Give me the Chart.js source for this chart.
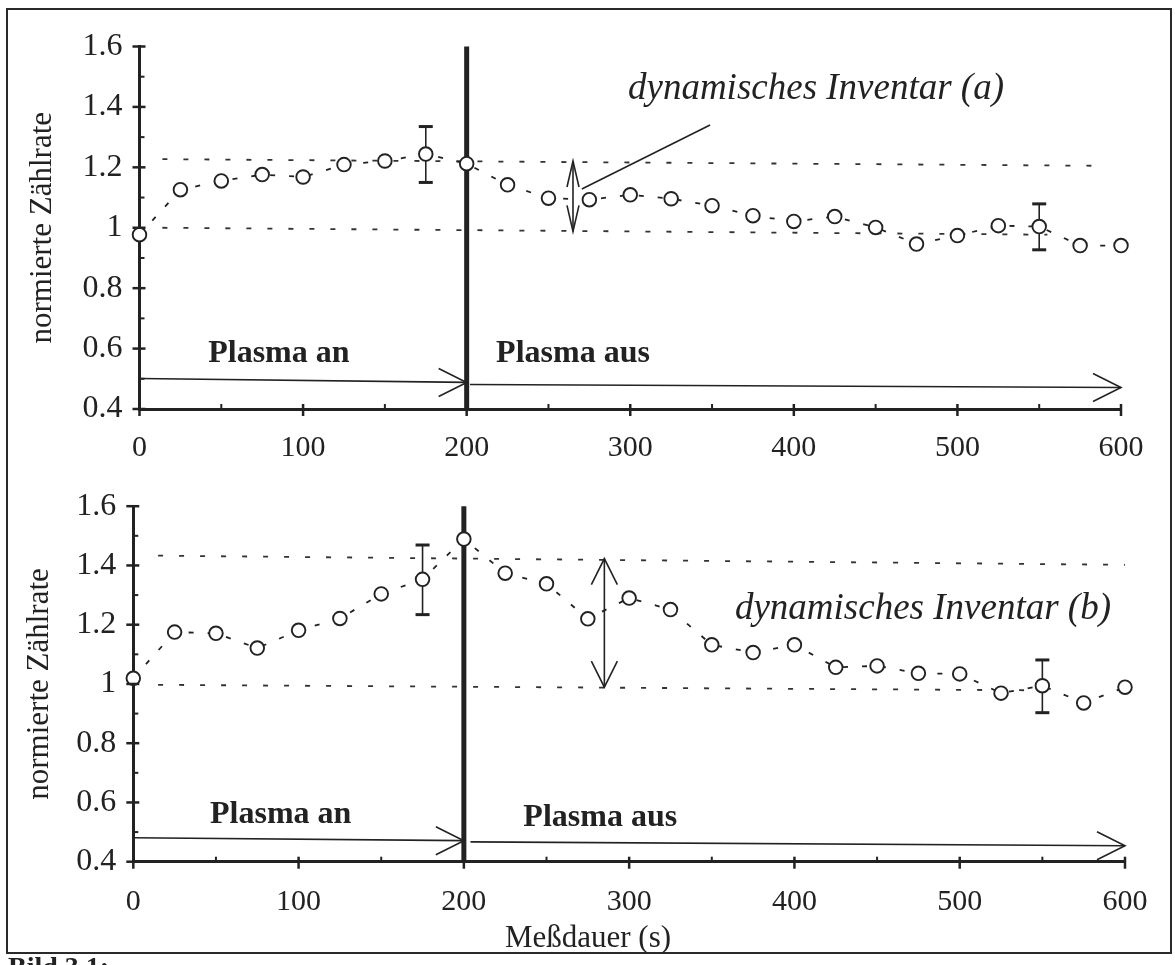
<!DOCTYPE html>
<html>
<head>
<meta charset="utf-8">
<script src="https://cdn.jsdelivr.net/npm/chart.js@4.4.1/dist/chart.umd.min.js"></script>
<style>
html,body{margin:0;padding:0;background:#fff;}
#wrap{position:relative;width:1175px;height:965px;overflow:hidden;background:#fff;}
#frame{position:absolute;left:6px;top:8px;width:1166px;height:946px;border:2px solid #2a2a2a;box-sizing:border-box;}
canvas{position:absolute;left:0;}
#c1{top:0;}
#c2{top:470px;}
#caption{position:absolute;left:8px;top:952px;font:bold 28px 'Liberation Serif',serif;color:#222;line-height:30px;}
</style>
</head>
<body>
<div id="wrap">
  <div id="frame"></div>
  <canvas id="c1" width="1175" height="470"></canvas>
  <canvas id="c2" width="1175" height="495"></canvas>
  <div id="caption">Bild 3.1:</div>
</div>
<script>
// ---------------- data ----------------
const times = [0,25,50,75,100,125,150,175,200,225,250,275,300,325,350,375,400,425,450,475,500,525,550,575,600];
const rateA = [0.977,1.126,1.155,1.176,1.168,1.209,1.221,1.244,1.212,1.142,1.098,1.093,1.109,1.096,1.073,1.040,1.021,1.037,1.001,0.946,0.974,1.007,1.004,0.941,0.941];
const rateB = [1.019,1.175,1.171,1.121,1.181,1.221,1.304,1.353,1.489,1.374,1.338,1.220,1.290,1.251,1.132,1.106,1.132,1.056,1.061,1.036,1.034,0.969,0.994,0.936,0.989];
const errTimes = [175, 550];
const errLowA  = [1.150, 0.927];
const errHighA = [1.335, 1.079];
const errLowB  = [1.234, 0.903];
const errHighB = [1.469, 1.081];
const xMin = 0, xMax = 600, xStep = 100;
const yMin = 0.4, yMax = 1.6, yStep = 0.2;
const switchTime = 200;
// dotted reference levels (start / end)
const refUpperA = [[14,1.227],[589,1.205]];
const refLowerA = [[14,1.000],[555,0.977]];
const refUpperB = [[15,1.433],[600,1.402]];
const refLowerB = [[15,0.997],[560,0.978]];
// inventory double arrows [time, low, high]
const invArrowA = [265, 0.988, 1.221];
const invArrowB = [285, 0.989, 1.423];
// pointer line (a)
const pointerA = [[270.4,1.128],[348.8,1.340]];
// phase arrows [[t0,v0],[t1,v1]]
const phaseAnA  = [[0,0.501],[200,0.488]];
const phaseAusA = [[202,0.481],[600,0.471]];
const phaseAnB  = [[0,0.481],[200,0.471]];
const phaseAusB = [[204,0.467],[600,0.454]];
// labels
const yTitle = 'normierte Zählrate';
const xTitle = 'Meßdauer (s)';
const invLabelA = 'dynamisches Inventar (a)';
const invLabelB = 'dynamisches Inventar (b)';
const onLabel = 'Plasma an';
const offLabel = 'Plasma aus';

// ---------------- drawing ----------------
const INK = '#222';
const FONT = "'Liberation Serif', 'Times New Roman', serif";

function seg(ctx, x1, y1, x2, y2, w) {
  ctx.lineWidth = w; ctx.beginPath(); ctx.moveTo(x1, y1); ctx.lineTo(x2, y2); ctx.stroke();
}

const decor = {
  id: 'decor',
  beforeDatasetsDraw(chart, args, o) {
    const ctx = chart.ctx, xs = chart.scales.x, ys = chart.scales.y;
    ctx.save(); ctx.strokeStyle = INK; ctx.lineCap = 'butt';
    o.errT.forEach((t, i) => {
      const x = xs.getPixelForValue(t);
      const y1 = ys.getPixelForValue(o.errLo[i]), y2 = ys.getPixelForValue(o.errHi[i]);
      seg(ctx, x, y1, x, y2, 1.6);
      seg(ctx, x - 7, y1, x + 7, y1, 3);
      seg(ctx, x - 7, y2, x + 7, y2, 3);
    });
    ctx.restore();
  },
  afterDraw(chart, args, o) {
    const ctx = chart.ctx, xs = chart.scales.x, ys = chart.scales.y, ca = chart.chartArea;
    const P = (t, v) => [xs.getPixelForValue(t), ys.getPixelForValue(v)];
    ctx.save(); ctx.strokeStyle = INK; ctx.fillStyle = INK; ctx.lineCap = 'butt';
    // tick marks
    const yt = ys.ticks.map(t => t.value);
    yt.forEach(v => { const y = ys.getPixelForValue(v); seg(ctx, ca.left - 7, y, ca.left + 6, y, 2.5); });
    for (let i = 0; i < yt.length - 1; i++) { const y = ys.getPixelForValue((yt[i] + yt[i+1]) / 2); seg(ctx, ca.left, y, ca.left + 5, y, 2); }
    const xt = xs.ticks.map(t => t.value);
    xt.forEach(v => { const x = xs.getPixelForValue(v); seg(ctx, x, ca.bottom - 5, x, ca.bottom + 7, 2.5); });
    for (let i = 0; i < xt.length - 1; i++) { const x = xs.getPixelForValue((xt[i] + xt[i+1]) / 2); seg(ctx, x, ca.bottom - 5, x, ca.bottom, 2); }
    // inventory double arrow
    const [it, ilo, ihi] = o.inv;
    const [ax, ay1] = P(it, ilo), ay2 = ys.getPixelForValue(ihi);
    seg(ctx, ax, ay1, ax, ay2, 1.6);
    [[ay1, -1], [ay2, 1]].forEach(([y, d]) => {
      ctx.lineWidth = 1.6; ctx.beginPath();
      ctx.moveTo(ax - o.invHalf, y + d * o.invBack); ctx.lineTo(ax, y); ctx.lineTo(ax + o.invHalf, y + d * o.invBack); ctx.stroke();
    });
    // pointer
    if (o.pointer) { const a = P(...o.pointer[0]), b = P(...o.pointer[1]); seg(ctx, a[0], a[1], b[0], b[1], 1.6); }
    // phase arrows
    o.phases.forEach(ph => {
      const a = P(...ph[0]), b = P(...ph[1]);
      seg(ctx, a[0], a[1], b[0], b[1], 1.6);
      ctx.lineWidth = 1.6; ctx.beginPath();
      ctx.moveTo(b[0] - 28, b[1] - 14); ctx.lineTo(b[0], b[1]); ctx.lineTo(b[0] - 28, b[1] + 14); ctx.stroke();
    });
    // texts
    ctx.textBaseline = 'alphabetic'; ctx.textAlign = 'left';
    o.texts.forEach(tx => {
      ctx.font = tx.font; const p = P(tx.t, tx.v); ctx.fillText(tx.s, p[0], p[1]);
    });
    // y title
    ctx.save();
    ctx.font = '31px ' + FONT; ctx.textAlign = 'center'; ctx.textBaseline = 'middle';
    ctx.translate(o.yTitleX, (ca.top + ca.bottom) / 2); ctx.rotate(-Math.PI / 2);
    ctx.fillText(yTitle, 0, 0);
    ctx.restore();
    if (o.xTitle) {
      ctx.font = '31px ' + FONT; ctx.textAlign = 'center'; ctx.textBaseline = 'middle';
      ctx.fillText(xTitle, o.xTitle[0], o.xTitle[1]);
    }
    ctx.restore();
  }
};

function panel(id, rates, errLo, errHi, refU, refL, geom, deco) {
  const pts = times.map((t, i) => ({ x: t, y: rates[i] }));
  const line = arr => arr.map(p => ({ x: p[0], y: p[1] }));
  return new Chart(document.getElementById(id), {
    type: 'line',
    data: { datasets: [
      { data: pts, borderColor: INK, borderWidth: 1.8, borderDash: [5, 14], pointRadius: 6.8, pointBorderWidth: 1.9,
        pointBackgroundColor: '#fff', pointBorderColor: INK, tension: 0, clip: false },
      { data: line(refU), borderColor: '#333', borderWidth: 1.8, borderDash: [5, 16], pointRadius: 0, clip: false },
      { data: line(refL), borderColor: '#333', borderWidth: 1.8, borderDash: [5, 16], pointRadius: 0, clip: false },
      { data: [{ x: switchTime, y: yMin }, { x: switchTime, y: yMax }], borderColor: INK, borderWidth: 5, pointRadius: 0, clip: false }
    ] },
    options: {
      responsive: false, animation: false, events: [],
      layout: { padding: { left: 0, top: geom.top, right: geom.right, bottom: 0 } },
      plugins: { legend: { display: false }, tooltip: { enabled: false }, decor: Object.assign({ errT: errTimes, errLo, errHi }, deco) },
      scales: {
        x: { type: 'linear', min: xMin, max: xMax,
             border: { display: true, width: 3, color: INK },
             grid: { display: false, drawTicks: false },
             ticks: { stepSize: xStep, font: { family: FONT, size: 30 }, color: INK, padding: geom.xPad, maxRotation: 0, autoSkip: false },
             afterFit: s => { s.height = geom.xh; } },
        y: { type: 'linear', min: yMin, max: yMax,
             border: { display: true, width: 3, color: INK },
             grid: { display: false, drawTicks: false },
             ticks: { stepSize: yStep, font: { family: FONT, size: 32 }, color: INK, padding: 17, autoSkip: false,
                      callback: v => String(Math.round(v * 10) / 10) },
             afterFit: s => { s.width = geom.yw; } }
      }
    },
    plugins: [decor]
  });
}

panel('c1', rateA, errLowA, errHighA, refUpperA, refLowerA,
  { top: 46.5, right: 54, xh: 61, yw: 139.5, xPad: 21 },
  { inv: invArrowA, invBack: 26, invHalf: 6, pointer: pointerA, phases: [phaseAnA, phaseAusA], yTitleX: 43,
    texts: [
      { s: invLabelA, t: 298.6, v: 1.426, font: 'italic 37px ' + FONT },
      { s: onLabel, t: 42, v: 0.554, font: 'bold 32px ' + FONT },
      { s: offLabel, t: 218, v: 0.554, font: 'bold 32px ' + FONT }
    ] });

panel('c2', rateB, errLowB, errHighB, refUpperB, refLowerB,
  { top: 31.7, right: 50, xh: 103.3, yw: 133.3, xPad: 22 },
  { inv: invArrowB, invBack: 26, invHalf: 13, pointer: null, phases: [phaseAnB, phaseAusB], yTitleX: 40, xTitle: [588, 469],
    texts: [
      { s: invLabelB, t: 364, v: 1.218, font: 'italic 37px ' + FONT },
      { s: onLabel, t: 46.4, v: 0.531, font: 'bold 32px ' + FONT },
      { s: offLabel, t: 236, v: 0.52, font: 'bold 32px ' + FONT }
    ] });
</script>
</body>
</html>
